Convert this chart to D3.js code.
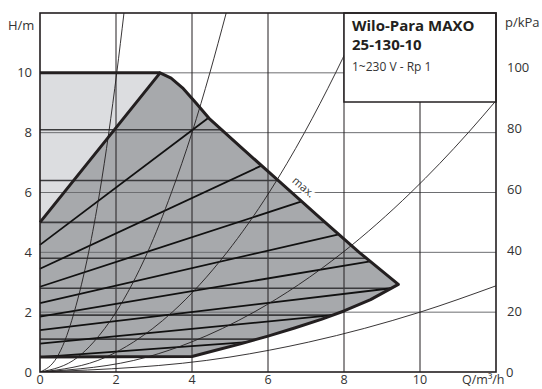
<!DOCTYPE html>
<html><head><meta charset="utf-8">
<script src="https://cdn.jsdelivr.net/npm/d3@7"></script>
<style>
html,body{margin:0;padding:0;background:#fff;}
svg{display:block;font-family:"Open Sans","Noto Sans",sans-serif;}
</style></head>
<body>
<svg id="c" width="542" height="389"></svg>
<script>
// ---- data ----
const qTicks = [0, 2, 4, 6, 8, 10];
const hTicks = [0, 2, 4, 6, 8, 10];
const pTicks = [0, 20, 40, 60, 80, 100];
// max speed curve (Q m3/h, H m), from top corner to the tip
const maxCurve = [[3.16,10],[3.45,9.82],[3.75,9.5],[4.1,9.0],[4.47,8.45],[5.3,7.5],[6.2,6.48],[7.37,5.15],[8.4,4.0],[9.43,2.93]];
// lower limit (min) curve, from the H axis to the tip
const minCurve = [[0,0.5],[4.0,0.52],[4.6,0.72],[5.3,0.95],[6.0,1.2],[6.7,1.47],[7.4,1.76],[8.0,2.04],[8.7,2.42],[9.43,2.93]];
// left limit of the range: H at Q=0 of the steep edge
const leftLow = 5;
const topH = 10;
// Δp-v set points (H at boundary; line starts at half on the H axis)
const dpvSet = [8.5, 6.9, 5.7, 4.6, 3.7, 2.8, 1.9, 1.0];
// Δp-c set points
const dpcSet = [8.1, 6.4, 5.0, 3.8, 2.8, 1.9, 1.1];
// system curves, points
const sysCurves = [
  [[0,0],[0.45,0.5],[0.64,1],[0.9,2],[1.28,4],[1.57,6],[1.81,8],[2.02,10],[2.21,12]],
  [[0,0],[1,0.5],[1.41,1],[2,2],[2.83,4],[3.46,6],[4,8],[4.47,10],[4.9,12]],
  [[0,0],[1.74,0.5],[2.46,1],[3.48,2],[4.92,4],[6.03,6],[6.96,8],[7.78,10],[8.53,12]],
  [[0,0],[2.82,0.5],[3.98,1],[5.63,2],[7.97,4],[9.76,6],[11.27,8],[12,9.07]],
  [[0,0],[5,0.5],[7.07,1],[10,2],[12,2.88]]
];
const title1 = "Wilo-Para MAXO";
const title2 = "25-130-10";
const title3 = "1~230 V - Rp 1";

// ---- drawing ----
const svg = d3.select("#c");
const x = d3.scaleLinear([0, 12], [40, 496]);
const y = d3.scaleLinear([0, 12], [372, 13]);
const yP = d3.scaleLinear([0, 12 * 9.81], [372, 13]);
const line = d3.line().x(d => x(d[0])).y(d => y(d[1]));
const ink = "#231f20";

svg.append("defs").append("clipPath").attr("id", "plot")
  .append("rect").attr("x", x(0)).attr("y", y(12)).attr("width", x(12) - x(0)).attr("height", y(0) - y(12));

const tip = maxCurve[maxCurve.length - 1];
const corner = maxCurve[0];

// fills
const darkPoly = minCurve.concat(maxCurve.slice().reverse()).concat([[0, leftLow]]);
svg.append("path").attr("d", line(darkPoly) + "Z").attr("fill", "#a7a9ac");
svg.append("path").attr("d", line([[0, leftLow], [0, topH], corner]) + "Z").attr("fill", "#dcdde0");

// grid
const g = svg.append("g");
g.selectAll("line.h").data(hTicks.filter(d => d > 0)).join("line")
  .attr("x1", x(0)).attr("x2", x(12)).attr("y1", d => y(d)).attr("y2", d => y(d))
  .attr("stroke", "#6d6e71").attr("stroke-width", 1);
g.selectAll("line.v").data(qTicks.filter(d => d > 0)).join("line")
  .attr("y1", y(0)).attr("y2", y(12)).attr("x1", d => x(d)).attr("x2", d => x(d))
  .attr("stroke", ink).attr("stroke-width", 1);

// boundary Q for a given H on the right/lower edge
function interpQ(curve, h) {
  for (let i = 0; i < curve.length - 1; i++) {
    const a = curve[i], b = curve[i + 1];
    if ((h - a[1]) * (h - b[1]) <= 0 && a[1] !== b[1]) {
      return a[0] + (h - a[1]) / (b[1] - a[1]) * (b[0] - a[0]);
    }
  }
  return null;
}
function edgeQ(h) {
  return h >= tip[1] ? interpQ(maxCurve, h) : interpQ(minCurve.slice(1), h);
}

// Δp-c lines
svg.append("g").selectAll("line").data(dpcSet).join("line")
  .attr("x1", x(0)).attr("x2", d => x(edgeQ(d)))
  .attr("y1", d => y(d)).attr("y2", d => y(d))
  .attr("stroke", "#3b3b3d").attr("stroke-width", 1.6);

// Δp-v lines
svg.append("g").selectAll("path").data(dpvSet).join("path")
  .attr("d", d => line([[0, d / 2], [edgeQ(d), d]]))
  .attr("stroke", "#111").attr("stroke-width", 1.8).attr("fill", "none");

// system curves
svg.append("g").attr("clip-path", "url(#plot)").selectAll("path").data(sysCurves).join("path")
  .attr("d", d3.line().x(d => x(d[0])).y(d => y(d[1])).curve(d3.curveMonotoneX))
  .attr("stroke", ink).attr("stroke-width", 0.9).attr("fill", "none");

// max. label (drawn before the outline so the outline stays on top)
const mx = x(7.0) - 5, my = y(6.05) - 1;
svg.append("text").attr("transform", `translate(${mx},${my}) rotate(41)`)
  .attr("text-anchor", "middle").attr("font-size", 11).attr("fill", "#333")
  .attr("stroke", "#fff").attr("stroke-width", 3).attr("paint-order", "stroke").text("max.");

// thick outline
svg.append("path").attr("d", line(minCurve.concat(maxCurve.slice().reverse()).concat([[0, leftLow]])))
  .attr("stroke", ink).attr("stroke-width", 3).attr("fill", "none").attr("stroke-linejoin", "round");
svg.append("path").attr("d", line([[0, topH], corner]))
  .attr("stroke", ink).attr("stroke-width", 3).attr("fill", "none");

// legend box
svg.append("rect").attr("x", 344).attr("y", y(12)).attr("width", x(12) - 344).attr("height", 89)
  .attr("fill", "#fff").attr("stroke", ink).attr("stroke-width", 1.5);
svg.append("text").attr("x", 352).attr("y", 31).attr("font-size", 15).attr("font-weight", "bold").attr("fill", ink).text(title1);
svg.append("text").attr("x", 352).attr("y", 50).attr("font-size", 15).attr("font-weight", "bold").attr("fill", ink).text(title2);
svg.append("text").attr("x", 352).attr("y", 71).attr("font-size", 12).attr("fill", "#333").text(title3);

// frame
svg.append("rect").attr("x", x(0)).attr("y", y(12)).attr("width", x(12) - x(0)).attr("height", y(0) - y(12))
  .attr("fill", "none").attr("stroke", ink).attr("stroke-width", 1.6);

// axes labels
const lab = svg.append("g").attr("font-size", 13).attr("fill", "#333");
lab.selectAll("text.l").data(hTicks).join("text").attr("x", 32).attr("y", d => y(d)).attr("dy", "0.35em")
  .attr("text-anchor", "end").text(d => d);
lab.selectAll("text.b").data(qTicks).join("text").attr("x", d => x(d)).attr("y", 384)
  .attr("font-size", 12.5).attr("text-anchor", "middle").text(d => d);
lab.selectAll("text.r").data(pTicks).join("text").attr("x", d => d === 0 ? 506 : 507).attr("y", d => yP(d)).attr("dy", "0.35em")
  .attr("text-anchor", "start").text(d => d);
lab.append("text").attr("x", 8).attr("y", 25).attr("dy", "0.35em").text("H/m");
lab.append("text").attr("x", 505).attr("y", 22).attr("dy", "0.35em").text("p/kPa");
lab.append("text").attr("x", 462).attr("y", 384).attr("font-size", 12.5).text("Q/m³/h");
</script>
</body></html>
